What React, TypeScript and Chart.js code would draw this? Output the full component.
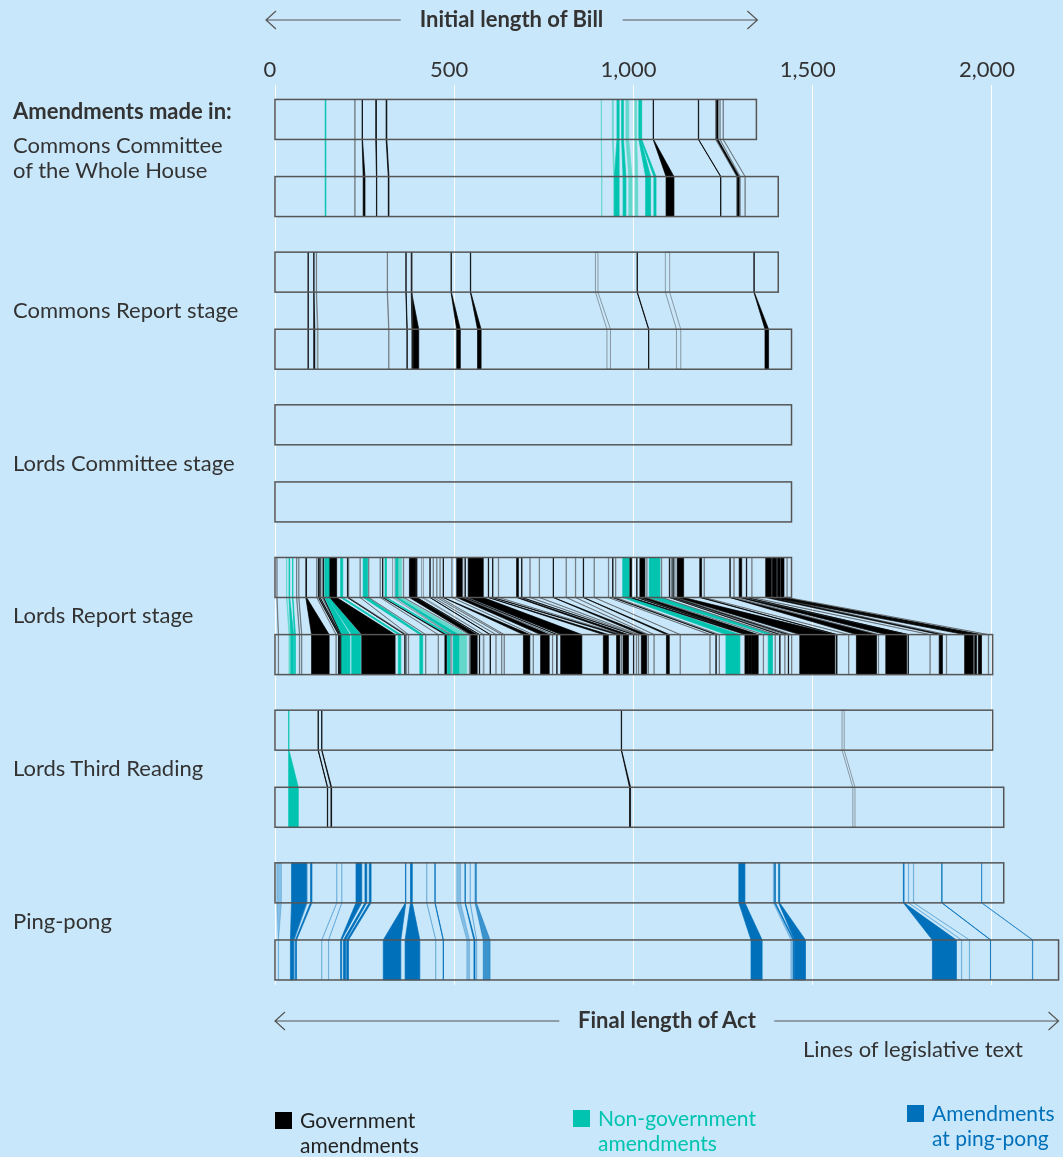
import React, { useEffect, useRef } from 'react';
import { Chart, registerables } from 'chart.js';

Chart.register(...registerables);

const BG = '#C9E7FA';
const TEXT = '#333333';
const FONT = 'Lato, "Open Sans", sans-serif';

const TICKS = [0, 500, 1000, 1500, 2000];
const X_MAX = 2190;

const STAGE_LABELS: string[][] = [
  ['Commons Committee', 'of the Whole House'],
  ['Commons Report stage'],
  ['Lords Committee stage'],
  ['Lords Report stage'],
  ['Lords Third Reading'],
  ['Ping-pong'],
];

// length of the text (lines) before and after each stage
const BEFORE_LEN = [1343, 1404, 1441, 1441, 2002, 2033];
const AFTER_LEN = [1404, 1441, 1441, 2002, 2033, 2186];

// amendments: [before start, before end, after start, after end, kind]
// kinds: g government, n non-government, nl light non-gov, p ping-pong, pl light ping-pong, pm mid ping-pong, o minor (outline)
type Amd = [number, number, number, number, string];

const AMD_COMMONS_CWH: Amd[] = [
  [140, 142, 140, 142, 'n'],
  [222, 224, 222, 224, 'o'],
  [243, 244, 246, 251, 'g'],
  [281, 283, 283, 284, 'g'],
  [310, 312, 316, 318, 'g'],
  [910, 911, 911, 912, 'nl'],
  [941, 944, 945, 947, 'nl'],
  [954, 960, 947, 960, 'n'],
  [967, 972, 971, 979, 'n'],
  [979, 987, 987, 996, 'nl'],
  [1004, 1009, 1005, 1012, 'nl'],
  [1015, 1020, 1034, 1048, 'n'],
  [1020, 1023, 1057, 1063, 'n'],
  [1055, 1056, 1091, 1113, 'g'],
  [1181, 1182, 1243, 1244, 'g'],
  [1229, 1230, 1288, 1289, 'o'],
  [1232, 1236, 1290, 1295, 'g'],
  [1241, 1242, 1297, 1298, 'o'],
  [1250, 1251, 1311, 1312, 'o'],
];

const AMD_COMMONS_REPORT: Amd[] = [
  [92, 93, 92, 93, 'g'],
  [108, 109, 108, 111, 'g'],
  [115, 116, 118, 120, 'o'],
  [313, 314, 317, 318, 'o'],
  [365, 366, 368, 369, 'g'],
  [380, 381, 382, 401, 'g'],
  [382, 383, 384, 385, 'o'],
  [491, 492, 507, 517, 'g'],
  [545, 546, 565, 575, 'g'],
  [894, 901, 926, 936, 'o'],
  [1010, 1011, 1042, 1043, 'g'],
  [1089, 1101, 1120, 1132, 'o'],
  [1336, 1337, 1367, 1377, 'g'],
];

const AMD_LORDS_COMMITTEE: Amd[] = [];

const AMD_LORDS_REPORT: Amd[] = [
  [5, 6, 9, 10, 'o'],
  [32, 33, 39, 42, 'nl'],
  [39, 41, 44, 52, 'n'],
  [49, 50, 54, 57, 'n'],
  [60, 61, 68, 69, 'o'],
  [66, 67, 74, 75, 'o'],
  [86, 88, 102, 151, 'g'],
  [116, 117, 170, 171, 'o'],
  [121, 122, 177, 178, 'g'],
  [125, 126, 180, 182, 'g'],
  [131, 132, 183, 184, 'o'],
  [135, 136, 184, 186, 'g'],
  [139, 145, 186, 209, 'n'],
  [146, 152, 214, 239, 'n'],
  [153, 172, 242, 335, 'g'],
  [183, 189, 344, 351, 'n'],
  [202, 203, 362, 363, 'g'],
  [205, 206, 365, 367, 'o'],
  [237, 238, 372, 373, 'o'],
  [246, 258, 404, 412, 'n'],
  [261, 262, 420, 421, 'o'],
  [293, 294, 455, 456, 'o'],
  [300, 301, 474, 479, 'g'],
  [307, 311, 481, 488, 'n'],
  [328, 335, 490, 493, 'o'],
  [337, 345, 497, 515, 'n'],
  [345, 353, 515, 535, 'nl'],
  [358, 359, 542, 543, 'o'],
  [375, 393, 546, 564, 'g'],
  [395, 396, 570, 571, 'g'],
  [409, 414, 581, 583, 'o'],
  [432, 433, 600, 601, 'g'],
  [441, 442, 616, 617, 'o'],
  [451, 452, 632, 633, 'o'],
  [460, 461, 639, 640, 'o'],
  [469, 470, 693, 711, 'g'],
  [493, 494, 720, 721, 'o'],
  [507, 522, 741, 765, 'g'],
  [523, 524, 774, 775, 'o'],
  [530, 531, 786, 787, 'g'],
  [539, 581, 797, 856, 'g'],
  [595, 596, 916, 930, 'g'],
  [607, 608, 953, 962, 'g'],
  [623, 624, 966, 967, 'o'],
  [674, 679, 971, 986, 'g'],
  [688, 689, 1000, 1001, 'g'],
  [711, 712, 1008, 1009, 'o'],
  [737, 738, 1014, 1015, 'o'],
  [776, 777, 1022, 1037, 'g'],
  [812, 813, 1041, 1042, 'o'],
  [838, 839, 1057, 1058, 'o'],
  [860, 861, 1092, 1100, 'g'],
  [890, 891, 1130, 1131, 'o'],
  [930, 931, 1213, 1214, 'o'],
  [942, 943, 1230, 1231, 'g'],
  [950, 951, 1239, 1240, 'o'],
  [970, 988, 1258, 1297, 'n'],
  [990, 995, 1311, 1320, 'g'],
  [1009, 1010, 1320, 1330, 'g'],
  [1018, 1032, 1330, 1348, 'g'],
  [1037, 1038, 1362, 1363, 'o'],
  [1044, 1074, 1376, 1388, 'n'],
  [1078, 1079, 1395, 1396, 'o'],
  [1100, 1101, 1408, 1409, 'g'],
  [1105, 1106, 1422, 1423, 'o'],
  [1110, 1111, 1432, 1433, 'g'],
  [1115, 1116, 1441, 1442, 'o'],
  [1122, 1140, 1464, 1562, 'g'],
  [1185, 1190, 1566, 1568, 'g'],
  [1197, 1198, 1600, 1601, 'o'],
  [1269, 1270, 1622, 1678, 'g'],
  [1280, 1281, 1683, 1684, 'o'],
  [1295, 1302, 1704, 1762, 'g'],
  [1315, 1316, 1766, 1767, 'g'],
  [1330, 1331, 1827, 1828, 'o'],
  [1369, 1385, 1853, 1862, 'g'],
  [1386, 1387, 1873, 1874, 'o'],
  [1388, 1399, 1924, 1948, 'g'],
  [1402, 1409, 1952, 1957, 'g'],
  [1411, 1420, 1962, 1971, 'g'],
  [1428, 1429, 1990, 1991, 'o'],
];

const AMD_LORDS_THIRD: Amd[] = [
  [38, 39, 38, 65, 'n'],
  [120, 121, 146, 147, 'g'],
  [130, 131, 156, 158, 'g'],
  [966, 967, 989, 992, 'g'],
  [1582, 1588, 1612, 1618, 'o'],
];

const AMD_PING_PONG: Amd[] = [
  [5, 18, 9, 10, 'pl'],
  [46, 88, 43, 52, 'p'],
  [89, 90, 53, 54, 'pl'],
  [99, 103, 57, 60, 'p'],
  [172, 173, 130, 131, 'pl'],
  [186, 187, 149, 150, 'pl'],
  [226, 242, 183, 186, 'p'],
  [251, 256, 191, 197, 'p'],
  [263, 268, 200, 205, 'p'],
  [364, 365, 302, 351, 'p'],
  [378, 383, 363, 404, 'p'],
  [423, 424, 448, 449, 'pl'],
  [446, 447, 469, 470, 'p'],
  [507, 518, 535, 543, 'pl'],
  [530, 531, 555, 558, 'p'],
  [544, 545, 562, 563, 'pl'],
  [558, 562, 581, 600, 'pm'],
  [1294, 1311, 1328, 1359, 'p'],
  [1390, 1393, 1439, 1446, 'pl'],
  [1394, 1396, 1446, 1448, 'p'],
  [1405, 1408, 1449, 1480, 'p'],
  [1753, 1755, 1834, 1901, 'p'],
  [1767, 1768, 1915, 1916, 'pl'],
  [1781, 1782, 1937, 1938, 'pl'],
  [1860, 1861, 1996, 1997, 'p'],
  [1971, 1972, 2113, 2114, 'pm'],
];

const AMENDMENTS: Amd[][] = [
  AMD_COMMONS_CWH,
  AMD_COMMONS_REPORT,
  AMD_LORDS_COMMITTEE,
  AMD_LORDS_REPORT,
  AMD_LORDS_THIRD,
  AMD_PING_PONG,
];

const KIND_COLORS: Record<string, string> = {
  g: '#000000',
  n: '#00C4B0',
  nl: '#63D8CB',
  p: '#0070BA',
  pm: 'rgba(0,112,186,0.7)',
  pl: 'rgba(0,112,186,0.35)',
  o: 'rgba(60,60,60,0.5)',
};

const LEGEND = [
  { lines: ['Government', 'amendments'], color: '#000000', text: '#222222', x: 275, y: 1112 },
  { lines: ['Non-government', 'amendments'], color: '#00C4B0', text: '#00C4B0', x: 573, y: 1110 },
  { lines: ['Amendments', 'at ping-pong'], color: '#0070BA', text: '#0070BA', x: 907, y: 1105 },
];

// layout constants (stage units on the y scale)
const BAR_H = 0.262;
const AFTER_OFF = 0.505;
const STAGE_PX = 152.6;

function drawArrow(ctx: CanvasRenderingContext2D, x1: number, x2: number, y: number, gap: number) {
  const cx = (x1 + x2) / 2;
  ctx.beginPath();
  ctx.moveTo(x1, y);
  ctx.lineTo(cx - gap, y);
  ctx.moveTo(cx + gap, y);
  ctx.lineTo(x2, y);
  ctx.moveTo(x1 + 10, y - 9);
  ctx.lineTo(x1, y);
  ctx.lineTo(x1 + 10, y + 9);
  ctx.moveTo(x2 - 10, y - 9);
  ctx.lineTo(x2, y);
  ctx.lineTo(x2 - 10, y + 9);
  ctx.stroke();
}

const flowPlugin = {
  id: 'flow',
  afterDatasetsDraw(chart: any) {
    const { ctx, scales } = chart;
    const xs = scales.x;
    const ys = scales.y;
    const X = (v: number) => xs.getPixelForValue(v);
    const Y = (v: number) => ys.getPixelForValue(v);
    ctx.save();
    AMENDMENTS.forEach((list, i) => {
      const t1 = Y(i);
      const b1 = Y(i + BAR_H);
      const t2 = Y(i + AFTER_OFF);
      const b2 = Y(i + AFTER_OFF + BAR_H);
      list.forEach(([bs, be, as, ae, kind]) => {
        ctx.beginPath();
        ctx.moveTo(X(bs), t1);
        ctx.lineTo(X(be), t1);
        ctx.lineTo(X(be), b1);
        ctx.lineTo(X(ae), t2);
        ctx.lineTo(X(ae), b2);
        ctx.lineTo(X(as), b2);
        ctx.lineTo(X(as), t2);
        ctx.lineTo(X(bs), b1);
        ctx.closePath();
        const c = KIND_COLORS[kind];
        if (kind === 'o') {
          ctx.strokeStyle = c;
          ctx.lineWidth = 0.9;
          ctx.stroke();
        } else {
          ctx.fillStyle = c;
          ctx.fill();
          ctx.strokeStyle = c;
          ctx.lineWidth = 0.7;
          ctx.stroke();
        }
      });
      ctx.strokeStyle = '#555555';
      ctx.lineWidth = 1.5;
      ctx.strokeRect(X(0), t1, X(BEFORE_LEN[i]) - X(0), b1 - t1);
      ctx.strokeRect(X(0), t2, X(AFTER_LEN[i]) - X(0), b2 - t2);
    });
    ctx.strokeStyle = '#555555';
    ctx.lineWidth = 1.2;
    drawArrow(ctx, X(0) - 9, X(BEFORE_LEN[0]) + 1, 20, 111);
    drawArrow(ctx, X(0), X(AFTER_LEN[AFTER_LEN.length - 1]), 1021, 107.5);
    ctx.restore();
  },
};

const textStyle = (x: number, cy: number, size: number, bold: boolean, color: string): React.CSSProperties => ({
  position: 'absolute',
  left: x,
  top: cy - 14,
  fontFamily: FONT,
  fontSize: size,
  lineHeight: '26px',
  fontWeight: bold ? 700 : 400,
  color,
  whiteSpace: 'nowrap',
});

export default function App() {
  const ref = useRef<HTMLCanvasElement>(null);

  useEffect(() => {
    document.body.style.margin = '0';
    document.body.style.background = BG;
    const chart = new Chart(ref.current as HTMLCanvasElement, {
      type: 'scatter',
      data: { datasets: [] },
      options: {
        animation: false,
        responsive: false,
        devicePixelRatio: 1,
        layout: { padding: { left: 275, right: 3, top: 55, bottom: 172 } },
        plugins: { legend: { display: false }, tooltip: { enabled: false } },
        scales: {
          x: {
            type: 'linear',
            position: 'top',
            min: 0,
            max: X_MAX,
            afterBuildTicks: (s: any) => {
              s.ticks = TICKS.map((v) => ({ value: v }));
            },
            grid: { color: '#ffffff', lineWidth: 1, drawTicks: false },
            border: { display: false },
            ticks: {
              padding: 2,
              labelOffset: -5,
              color: TEXT,
              autoSkip: false,
              maxRotation: 0,
              font: { family: 'Lato', size: 22 },
              callback: (v: any) => Number(v).toLocaleString('en-US'),
            },
          },
          y: { type: 'linear', min: -0.092, max: 5.8, reverse: true, display: false },
        },
      },
      plugins: [flowPlugin],
    } as any);
    return () => chart.destroy();
  }, []);

  return (
    <div style={{ position: 'relative', width: 1063, height: 1157, background: BG, overflow: 'hidden' }}>
      <canvas ref={ref} width={1063} height={1157} style={{ position: 'absolute', left: 0, top: 0, display: 'block' }} />
      <div style={{ ...textStyle(311.5, 20, 22, true, TEXT), width: 400, textAlign: 'center' }}>Initial length of Bill</div>
      <div style={textStyle(13, 112, 22, true, TEXT)}>Amendments made in:</div>
      {STAGE_LABELS.map((lines, i) => {
        const center = 158.5 + STAGE_PX * i;
        const start = center - ((lines.length - 1) * 25) / 2;
        return lines.map((t, j) => (
          <div key={`${i}-${j}`} style={textStyle(13, start + j * 25, 22, false, TEXT)}>
            {t}
          </div>
        ));
      })}
      <div style={{ ...textStyle(467, 1021, 22, true, TEXT), width: 400, textAlign: 'center' }}>Final length of Act</div>
      <div style={textStyle(803, 1050, 22, false, TEXT)}>Lines of legislative text</div>
      {LEGEND.map((l) => (
        <React.Fragment key={l.lines[0]}>
          <div style={{ position: 'absolute', left: l.x, top: l.y, width: 17, height: 17, background: l.color }} />
          {l.lines.map((t, j) => (
            <div key={t} style={textStyle(l.x + 25, l.y + 9 + j * 25, 21, false, l.text)}>
              {t}
            </div>
          ))}
        </React.Fragment>
      ))}
    </div>
  );
}
